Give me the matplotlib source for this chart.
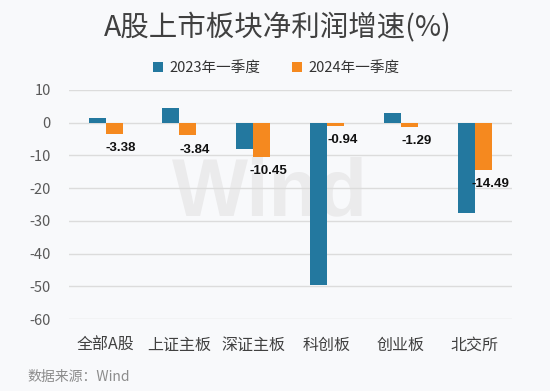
import numpy as np
import matplotlib.pyplot as plt

plt.rcParams['font.family'] = ['Noto Sans CJK SC', 'DejaVu Sans']

categories = ['全部A股', '上证主板', '深证主板', '科创板', '创业板', '北交所']
q1_2023 = [1.5, 4.5, -7.9, -49.5, 3.0, -27.5]
q1_2024 = [-3.38, -3.84, -10.45, -0.94, -1.29, -14.49]
series_names = ['2023年一季度', '2024年一季度']
yticks = [10, 0, -10, -20, -30, -40, -50, -60]

def main():
    bg = '#f8f9fb'
    blue = '#23789f'
    orange = '#f5891f'
    fig = plt.figure(figsize=(5.5, 3.91), dpi=100, facecolor=bg)
    ax = fig.add_axes([0.125, 0.184, 0.805, 0.586], facecolor=bg)

    x = np.arange(len(categories))
    w = 0.23
    ax.bar(x - w / 2, q1_2023, w, color=blue, label=series_names[0], zorder=3)
    ax.bar(x + w / 2, q1_2024, w, color=orange, label=series_names[1], zorder=3)

    for xi, v in zip(x, q1_2024):
        ax.annotate('%.2f' % v, (xi + w / 2, v), xytext=(5, -6), textcoords='offset points',
                    ha='center', va='top', fontsize=9.5, fontweight='bold',
                    family=['Liberation Sans'], color='#111111', zorder=4)

    ax.set_ylim(-60, 10)
    ax.set_xlim(-0.5, len(categories) - 0.5)
    ax.set_yticks(yticks)
    ax.set_yticklabels([str(t) for t in yticks], color='#595959', fontsize=10.5)
    ax.set_xticks(x)
    ax.set_xticklabels(categories, color='#404040', fontsize=11.5)
    ax.tick_params(length=0)
    ax.tick_params(axis='y', pad=13)
    ax.tick_params(axis='x', pad=13)
    ax.set_axisbelow(False)
    ax.grid(axis='y', color='#dcdcdc', linewidth=1, zorder=1)
    for s in ax.spines.values():
        s.set_visible(False)

    # faint watermark behind grid and bars
    ax.text(0.455, 0.545, 'Wind', transform=ax.transAxes, fontsize=58, fontweight='bold',
            color='#ebebec', ha='center', va='center', family=['Liberation Sans'], zorder=0.5)

    fig.text(0.505, 0.928, 'A股上市板块净利润增速(%)', fontsize=20.5, color='#404040',
             ha='center', va='center')
    fig.legend(loc='center', bbox_to_anchor=(0.502, 0.825), ncol=2, frameon=False,
               fontsize=10.5, handlelength=0.7, handleheight=0.7, columnspacing=2.2,
               handletextpad=0.4, labelcolor='#333333')
    fig.text(0.05, 0.035, '数据来源：Wind', fontsize=10, color='#8c8c8c', ha='left', va='center')

    fig.savefig('out.png', dpi=100, facecolor=bg)

if __name__ == "__main__":
    main()
